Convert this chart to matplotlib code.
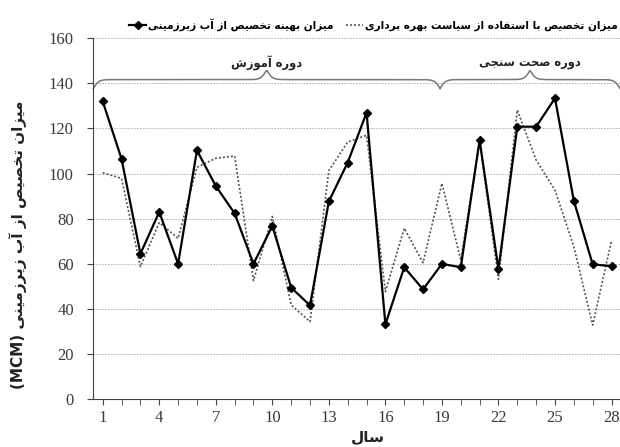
import numpy as np
import matplotlib.pyplot as plt
from matplotlib.lines import Line2D

years = list(range(1, 29))
optimal = [132, 106.5, 64.5, 83, 60, 110.3, 94.5, 82.4, 60, 76.8, 49.5, 41.6, 87.7, 104.9,
           127, 33.2, 58.5, 48.7, 60, 58.5, 114.8, 57.7, 120.8, 120.8, 133.4, 88, 59.8, 59]
policy = [100.4, 97.9, 58.8, 78.3, 71.3, 102.8, 106.8, 107.8, 52.6, 81, 41.8, 34.4, 101.3, 114,
          117, 47.7, 75.8, 60.5, 95.7, 61.7, 114.2, 53.2, 128.2, 106, 92.7, 67.6, 32.9, 70.3]
xticks = [1, 4, 7, 10, 13, 16, 19, 22, 25, 28]
yticks = [0, 20, 40, 60, 80, 100, 120, 140, 160]

# period braces: start, end, label
periods = [(0.5, 18.9, 'دوره آموزش'), (18.9, 28.45, 'دوره صحت سنجی')]

label_opt = 'میزان بهینه تخصیص از آب زیرزمینی'
label_pol = 'میزان تخصیص با استفاده از سیاست بهره برداری'
xlabel = 'سال'
ylabel = 'میزان تخصیص از آب زیرزمینی (MCM)'

# minimal persian shaping (matplotlib has no bidi / joining)
FORMS = {
    'ا': ('\uFE8D', '\uFE8E', None, None),
    'آ': ('\uFE81', '\uFE82', None, None),
    'ب': ('\uFE8F', '\uFE90', '\uFE91', '\uFE92'),
    'ت': ('\uFE95', '\uFE96', '\uFE97', '\uFE98'),
    'ج': ('\uFE9D', '\uFE9E', '\uFE9F', '\uFEA0'),
    'ح': ('\uFEA1', '\uFEA2', '\uFEA3', '\uFEA4'),
    'خ': ('\uFEA5', '\uFEA6', '\uFEA7', '\uFEA8'),
    'د': ('\uFEA9', '\uFEAA', None, None),
    'ر': ('\uFEAD', '\uFEAE', None, None),
    'ز': ('\uFEAF', '\uFEB0', None, None),
    'س': ('\uFEB1', '\uFEB2', '\uFEB3', '\uFEB4'),
    'ش': ('\uFEB5', '\uFEB6', '\uFEB7', '\uFEB8'),
    'ص': ('\uFEB9', '\uFEBA', '\uFEBB', '\uFEBC'),
    'ف': ('\uFED1', '\uFED2', '\uFED3', '\uFED4'),
    'ل': ('\uFEDD', '\uFEDE', '\uFEDF', '\uFEE0'),
    'م': ('\uFEE1', '\uFEE2', '\uFEE3', '\uFEE4'),
    'ن': ('\uFEE5', '\uFEE6', '\uFEE7', '\uFEE8'),
    'ه': ('\uFEE9', '\uFEEA', '\uFEEB', '\uFEEC'),
    'و': ('\uFEED', '\uFEEE', None, None),
    'ی': ('\uFEEF', '\uFEF0', '\uFEF3', '\uFEF4'),
}


def shape(word):
    out = []
    for i, ch in enumerate(word):
        f = FORMS.get(ch)
        if f is None:
            out.append(ch)
            continue
        prev = word[i - 1] if i > 0 else None
        nxt = word[i + 1] if i < len(word) - 1 else None
        jp = prev in FORMS and FORMS[prev][2] is not None
        jn = nxt in FORMS and f[2] is not None
        if jp and jn:
            out.append(f[3])
        elif jp:
            out.append(f[1])
        elif jn:
            out.append(f[2])
        else:
            out.append(f[0])
    return ''.join(reversed(out))


def rtl(text):
    words = text.split(' ')
    return ' '.join(shape(w) if any(c in FORMS for c in w) else w for w in reversed(words))


plt.rcParams['font.family'] = ['Liberation Serif', 'DejaVu Sans']
fa = ['DejaVu Sans']

fig = plt.figure(figsize=(6.2, 4.47), dpi=100)
ax = fig.add_axes([93.3 / 620, 47.7 / 447, 1 - 93.3 / 620, (399.3 - 38.2) / 447])

ax.plot(years, policy, color='#555555', lw=1.2, ls=(0, (1.2, 1.2)), label=rtl(label_pol))
ax.plot(years, optimal, color='black', lw=1.6, marker='D', ms=4.3, label=rtl(label_opt))

ax.set_xlim(0.5, 28.45)
ax.set_ylim(0, 160)
ax.set_xticks(xticks)
ax.set_xticks(years, minor=True)
ax.set_yticks(yticks)
ax.yaxis.grid(True, color='#aaaaaa', ls=(0, (2, 1.5)), lw=0.6)
ax.set_axisbelow(True)
for s in ['top', 'right']:
    ax.spines[s].set_visible(False)
for s in ['left', 'bottom']:
    ax.spines[s].set_color('#444444')
ax.tick_params(axis='both', which='both', direction='out', color='#444444', labelcolor='#3a3a3a',
               labelsize=12)
ax.tick_params(axis='y', length=4, pad=10)
ax.tick_params(axis='x', which='both', length=4, pad=4)

# braces
for x0, x1, txt in periods:
    n = 200
    xs = np.linspace(x0, x1, 2 * n)
    half = xs[:n]
    beta = 7.0
    yh = 1 / (1 + np.exp(-beta * (half - half[0]))) + 1 / (1 + np.exp(-beta * (half - half[-1])))
    yy = np.concatenate([yh, yh[::-1]])
    yy = 137.7 + (yy - 0.5) * 7.9
    ax.plot(xs, yy, color='#777777', lw=1.1, clip_on=False)
    ax.text((x0 + x1) / 2, 149, rtl(txt), ha='center', va='center', fontsize=8.3,
            fontweight='bold', family=fa, color='#222222')

h_opt = Line2D([], [], color='black', lw=1.6, marker='D', ms=4)
h_pol = Line2D([], [], color='#555555', lw=1.2, ls=(0, (1.2, 1.2)))
leg = fig.legend([h_opt, h_pol], [rtl(label_opt), rtl(label_pol)], ncol=2, frameon=False,
                 loc='center right', bbox_to_anchor=(618 / 620, 1 - 25 / 447),
                 handlelength=1.6, handletextpad=0.2, columnspacing=1.2,
                 borderaxespad=0, borderpad=0, prop={'family': fa, 'weight': 'bold', 'size': 7.6})

fig.text(368 / 620, 1 - 437 / 447, rtl(xlabel), ha='center', va='center', fontsize=11,
         fontweight='bold', family=fa, color='#222222')
fig.text(18 / 620, 1 - 245 / 447, rtl(ylabel), ha='center', va='center', rotation=90,
         fontsize=11, fontweight='bold', family=fa, color='#222222')

fig.savefig('out.png', dpi=100)
